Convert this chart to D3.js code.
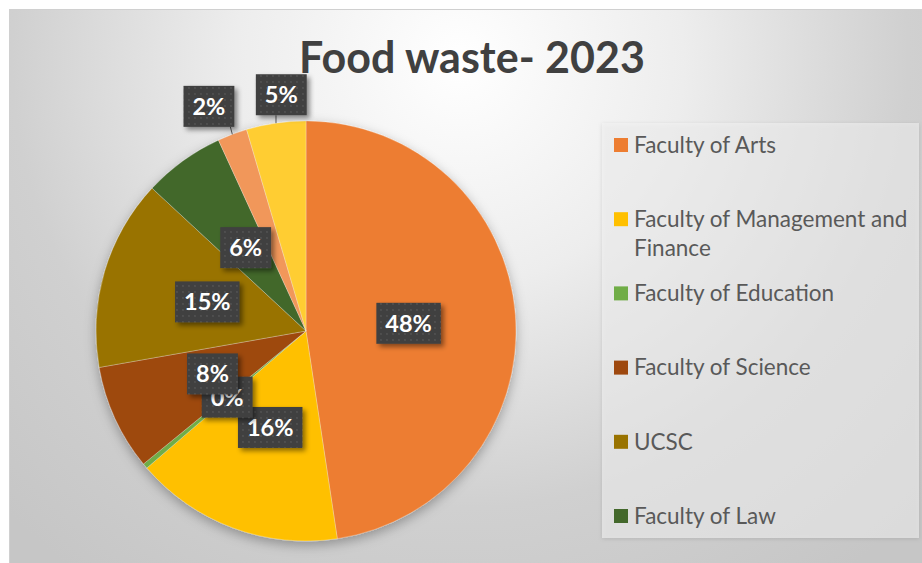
<!DOCTYPE html>
<html>
<head>
<meta charset="utf-8">
<script src="https://cdn.jsdelivr.net/npm/d3@7"></script>
<style>
  body { margin: 0; background: #fff; }
  svg { display: block; }
</style>
</head>
<body>
<svg width="922" height="563"></svg>
<script>
// data (share of food waste, %)
var categories = ["Faculty of Arts", "Faculty of Management and Finance", "Faculty of Education",
                  "Faculty of Science", "UCSC", "Faculty of Law", "Faculty of Medicine", "Faculty of Technology"];
var values = [48, 16.2, 0.4, 8.2, 14.8, 6.3, 2.3, 4.6];
var colors = ["#ED7D31", "#FFC000", "#70AD47", "#9E480E", "#997300", "#43682B", "#F1975A", "#FFCD33"];
var outsideLabels = ["Faculty of Medicine", "Faculty of Technology"];
var title = "Food waste- 2023";

var svg = d3.select("svg"),
    width = +svg.attr("width"),
    height = +svg.attr("height");

var font = "Lato, 'Open Sans', sans-serif";
var cx = 306, cy = 331, R = 210;

var defs = svg.append("defs");

var bg = defs.append("radialGradient")
    .attr("id", "bg")
    .attr("gradientUnits", "userSpaceOnUse")
    .attr("cx", 460).attr("cy", 60).attr("r", 640);
bg.append("stop").attr("offset", "0").attr("stop-color", "#ffffff");
bg.append("stop").attr("offset", "0.35").attr("stop-color", "#ededed");
bg.append("stop").attr("offset", "0.7").attr("stop-color", "#d0d0d0");
bg.append("stop").attr("offset", "1").attr("stop-color", "#c6c6c6");

defs.append("filter").attr("id", "pieShadow")
    .attr("x", "-20%").attr("y", "-20%").attr("width", "140%").attr("height", "140%")
  .append("feDropShadow")
    .attr("dx", 0).attr("dy", 4).attr("stdDeviation", 6)
    .attr("flood-color", "#000").attr("flood-opacity", 0.3);

defs.append("filter").attr("id", "boxShadow")
    .attr("x", "-30%").attr("y", "-30%").attr("width", "170%").attr("height", "170%")
  .append("feDropShadow")
    .attr("dx", 3).attr("dy", 3).attr("stdDeviation", 2.5)
    .attr("flood-color", "#000").attr("flood-opacity", 0.45);

defs.append("filter").attr("id", "legendShadow")
    .attr("x", "-10%").attr("y", "-10%").attr("width", "120%").attr("height", "120%")
  .append("feDropShadow")
    .attr("dx", 0).attr("dy", 1).attr("stdDeviation", 2)
    .attr("flood-color", "#000").attr("flood-opacity", 0.2);

// dotted texture on the data labels
var dots = defs.append("pattern")
    .attr("id", "dots")
    .attr("patternUnits", "userSpaceOnUse")
    .attr("width", 6).attr("height", 6);
dots.append("rect").attr("width", 6).attr("height", 6).attr("fill", "#404040");
dots.append("circle").attr("cx", 3).attr("cy", 3).attr("r", 0.9).attr("fill", "#555555");

// chart area
svg.append("rect")
    .attr("x", 9.5).attr("y", 9.5)
    .attr("width", width).attr("height", height)
    .attr("fill", "url(#bg)")
    .attr("stroke", "#d0d0d0");

svg.append("text")
    .attr("x", 472).attr("y", 73)
    .attr("text-anchor", "middle")
    .attr("font-family", font)
    .attr("font-weight", "bold")
    .attr("font-size", 43)
    .attr("fill", "#404040")
    .text(title);

var data = categories.map(function(c, i) { return {name: c, value: values[i], color: colors[i]}; });
var total = d3.sum(values);

var pie = d3.pie().sort(null).value(function(d) { return d.value; });
var arcs = pie(data);

var arc = d3.arc().innerRadius(0).outerRadius(R);
var labelArc = d3.arc().innerRadius(R * 0.49).outerRadius(R * 0.49);

var g = svg.append("g").attr("transform", "translate(" + cx + "," + cy + ")");

g.append("g")
    .attr("filter", "url(#pieShadow)")
  .selectAll("path")
  .data(arcs)
  .enter().append("path")
    .attr("d", arc)
    .attr("fill", function(d) { return d.data.color; })
    .attr("stroke", "#ffffff")
    .attr("stroke-opacity", 0.35)
    .attr("stroke-width", 0.75);

// data labels
var labels = g.append("g").selectAll("g")
  .data(arcs)
  .enter().append("g");

labels.each(function(d) {
    var sel = d3.select(this);
    var txt = Math.round(d.data.value / total * 100) + "%";
    var mid = (d.startAngle + d.endAngle) / 2;
    var sx = Math.sin(mid), sy = -Math.cos(mid);
    var t = sel.append("text")
        .attr("font-family", font)
        .attr("font-weight", "bold")
        .attr("font-size", 23.5)
        .attr("fill", "#ffffff")
        .attr("text-anchor", "middle")
        .attr("dy", "0.36em")
        .text(txt);
    var w = t.node().getComputedTextLength() + 18, h = 41;
    var px, py;
    if (outsideLabels.indexOf(d.data.name) >= 0) {
        // box sits above the rim, pushed sideways away from the top
        var ax = sx * (R + 8), ay = sy * (R + 8);
        px = ax + sx * 130 + 25;
        py = ay - h / 2;
        var lx = Math.max(px - w / 2 + 4, Math.min(px + w / 2 - 4, sx * R));
        sel.insert("line", "text")
            .attr("x1", sx * R).attr("y1", sy * R)
            .attr("x2", lx).attr("y2", ay)
            .attr("stroke", "#595959")
            .attr("stroke-width", 1);
    } else {
        var c = labelArc.centroid(d);
        px = c[0]; py = c[1];
    }
    sel.insert("rect", "text")
        .attr("x", px - w / 2).attr("y", py - h / 2)
        .attr("width", w).attr("height", h)
        .attr("fill", "url(#dots)")
        .attr("filter", "url(#boxShadow)");
    t.attr("x", px).attr("y", py);
});

// legend: entries that do not fit in the box are left out
var lx0 = 602, ly0 = 123, lw = 317, lh = 415;
var legend = svg.append("g").attr("class", "legend");
legend.append("rect")
    .attr("x", lx0).attr("y", ly0)
    .attr("width", lw).attr("height", lh)
    .attr("fill", "#f2f2f2")
    .attr("fill-opacity", 0.55)
    .attr("filter", "url(#legendShadow)");

var step = 74.2;
data.forEach(function(d, i) {
    var y = 145 + i * step;
    if (y + 10 > ly0 + lh) return;
    legend.append("rect")
        .attr("x", 614).attr("y", y - 7)
        .attr("width", 14).attr("height", 14)
        .attr("fill", d.color);
    var t = legend.append("text")
        .attr("x", 634).attr("y", y)
        .attr("dy", "0.35em")
        .attr("font-family", font)
        .attr("font-size", 22.5)
        .attr("fill", "#595959");
    // wrap long names
    var words = d.name.split(" "), line = [], tspan = t.append("tspan").attr("x", 634);
    words.forEach(function(word) {
        line.push(word);
        tspan.text(line.join(" "));
        if (tspan.node().getComputedTextLength() > lx0 + lw - 634 - 2 && line.length > 1) {
            line.pop();
            tspan.text(line.join(" "));
            line = [word];
            tspan = t.append("tspan").attr("x", 634).attr("dy", 29).text(word);
        }
    });
});
</script>
</body>
</html>
